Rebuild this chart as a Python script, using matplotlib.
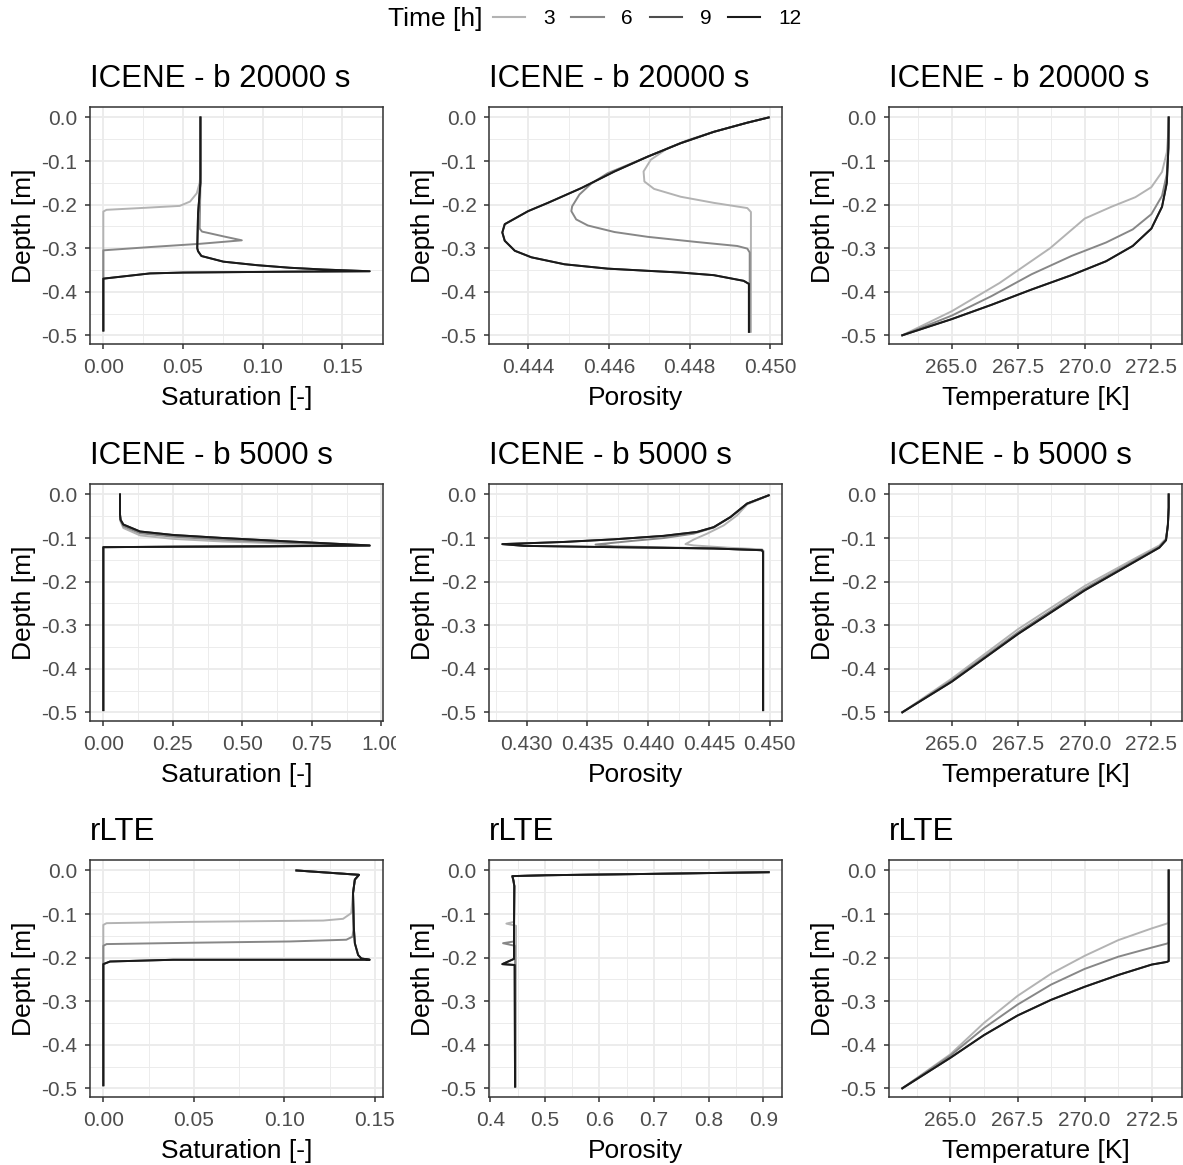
import matplotlib.pyplot as plt
from matplotlib.lines import Line2D
from matplotlib.ticker import FixedLocator, FormatStrFormatter, AutoMinorLocator
from matplotlib.transforms import Bbox

plt.rcParams['font.family'] = ['Liberation Sans', 'DejaVu Sans']
plt.rcParams['axes.unicode_minus'] = False

# ── Legend / series styling ───────────────────────────────────────────────────
times   = ['3', '6', '9', '12']
colours = ['#B3B3B3', '#878787', '#4D4D4D', '#1A1A1A']

# ── ICENE - b 20000 s : saturation ────────────────────────────────────────────
sat20k_3_x  = [0.061, 0.061, 0.0605, 0.0587, 0.0545, 0.048, 0.023, 0.002, 0.0, 0.0]
sat20k_3_y  = [0.0, -0.13, -0.15, -0.174, -0.193, -0.203, -0.208, -0.212, -0.216, -0.489]
sat20k_6_x  = [0.061, 0.061, 0.0605, 0.062, 0.067, 0.0755, 0.087, 0.0608, 0.0293, 0.0, 0.0]
sat20k_6_y  = [0.0, -0.15, -0.255, -0.262, -0.266, -0.273, -0.282, -0.290, -0.2975, -0.305, -0.489]
sat20k_12_x = [0.061, 0.061, 0.0595, 0.059, 0.0595, 0.0616, 0.0754, 0.0963, 0.1172, 0.138,
               0.1673, 0.117, 0.0502, 0.0293, 0.0, 0.0]
sat20k_12_y = [0.0, -0.15, -0.22, -0.30, -0.307, -0.318, -0.331, -0.339, -0.345, -0.349,
               -0.353, -0.354, -0.356, -0.358, -0.370, -0.489]

# ── ICENE - b 20000 s : porosity ──────────────────────────────────────────────
por20k_3_x  = [0.44996, 0.44943, 0.44860, 0.44795, 0.44745, 0.44704, 0.44686, 0.44688,
               0.44712, 0.44778, 0.44860, 0.44943, 0.44952, 0.44952]
por20k_3_y  = [0.0, -0.012, -0.033, -0.052, -0.071, -0.097, -0.124, -0.147,
               -0.164, -0.182, -0.196, -0.208, -0.217, -0.492]
por20k_6_x  = [0.44996, 0.44943, 0.44860, 0.44778, 0.44696, 0.44647, 0.44597, 0.44556,
               0.44527, 0.44509, 0.44507, 0.44519, 0.44548, 0.44614, 0.44696, 0.44819,
               0.44918, 0.44943, 0.44949, 0.44949]
por20k_6_y  = [0.0, -0.012, -0.033, -0.059, -0.090, -0.109, -0.128, -0.152,
               -0.177, -0.204, -0.215, -0.234, -0.248, -0.263, -0.274, -0.286,
               -0.295, -0.301, -0.310, -0.492]
por20k_12_x = [0.44996, 0.44943, 0.44860, 0.44778, 0.44696, 0.44614, 0.44532, 0.44449,
               0.44400, 0.44342, 0.44336, 0.44342, 0.44367, 0.44408, 0.44490, 0.44597,
               0.44696, 0.44778, 0.44860, 0.44934, 0.44947, 0.44947]
por20k_12_y = [0.0, -0.012, -0.033, -0.059, -0.090, -0.124, -0.162, -0.196,
               -0.215, -0.245, -0.264, -0.283, -0.306, -0.321, -0.337, -0.347,
               -0.352, -0.356, -0.362, -0.375, -0.382, -0.492]

# ── ICENE - b 20000 s : temperature ───────────────────────────────────────────
tem20k_3_x  = [263.15, 265.0, 266.8, 268.7, 270.0, 271.0, 271.9, 272.5, 272.9, 273.08,
               273.14, 273.15]
tem20k_3_y  = [-0.5, -0.445, -0.38, -0.30, -0.232, -0.205, -0.183, -0.16, -0.125, -0.08,
               -0.03, 0.0]
tem20k_6_x  = [263.15, 265.0, 266.5, 268.0, 269.5, 270.8, 271.8, 272.5, 272.9, 273.08,
               273.14, 273.15]
tem20k_6_y  = [-0.5, -0.455, -0.41, -0.36, -0.318, -0.287, -0.257, -0.222, -0.18, -0.13,
               -0.06, 0.0]
tem20k_12_x = [263.15, 265.0, 266.5, 268.0, 269.5, 270.8, 271.8, 272.5, 272.9, 273.08,
               273.14, 273.15]
tem20k_12_y = [-0.5, -0.463, -0.43, -0.395, -0.362, -0.33, -0.295, -0.255, -0.205, -0.15,
               -0.07, 0.0]

# ── ICENE - b 5000 s : saturation ─────────────────────────────────────────────
sat5k_x    = [0.06, 0.06, 0.062, 0.072, 0.132, 0.251, 0.431, 0.671, 0.958, 0.60, 0.25, 0.0, 0.0]
sat5k_3_y  = [0.0, -0.046, -0.062, -0.077, -0.094, -0.102, -0.108, -0.113, -0.118, -0.119,
              -0.120, -0.121, -0.495]
sat5k_6_y  = [0.0, -0.046, -0.060, -0.073, -0.089, -0.097, -0.104, -0.111, -0.118, -0.119,
              -0.120, -0.121, -0.495]
sat5k_12_y = [0.0, -0.046, -0.058, -0.069, -0.085, -0.093, -0.100, -0.108, -0.117, -0.119,
              -0.120, -0.121, -0.495]

# ── ICENE - b 5000 s : porosity ───────────────────────────────────────────────
por5k_3_x  = [0.44992, 0.44814, 0.44732, 0.44622, 0.44485, 0.44375, 0.44307, 0.44375,
              0.44677, 0.44937, 0.44951, 0.44951]
por5k_3_y  = [-0.002, -0.023, -0.048, -0.071, -0.090, -0.1035, -0.114, -0.117,
              -0.1225, -0.126, -0.130, -0.495]
por5k_6_x  = [0.44992, 0.44814, 0.44677, 0.44540, 0.44375, 0.44129, 0.43855, 0.43567,
              0.43718, 0.44540, 0.44937, 0.44945, 0.44945]
por5k_6_y  = [-0.002, -0.021, -0.052, -0.076, -0.090, -0.100, -0.107, -0.115,
              -0.119, -0.124, -0.128, -0.132, -0.495]
por5k_12_x = [0.44992, 0.44814, 0.44677, 0.44540, 0.44403, 0.44129, 0.43718, 0.43307,
              0.42800, 0.42978, 0.43718, 0.44540, 0.44937, 0.44945, 0.44945]
por5k_12_y = [-0.002, -0.021, -0.052, -0.075, -0.086, -0.095, -0.103, -0.109,
              -0.114, -0.118, -0.121, -0.124, -0.128, -0.132, -0.495]

# ── ICENE - b 5000 s : temperature ────────────────────────────────────────────
tem5k_x    = [263.15, 265.0, 267.5, 270.0, 272.0, 272.8, 273.05, 273.12, 273.15, 273.15]
tem5k_3_y  = [-0.5, -0.423, -0.309, -0.210, -0.143, -0.117, -0.101, -0.07, -0.03, 0.0]
tem5k_6_y  = [-0.5, -0.427, -0.316, -0.216, -0.147, -0.120, -0.103, -0.07, -0.03, 0.0]
tem5k_12_y = [-0.5, -0.430, -0.320, -0.220, -0.150, -0.122, -0.105, -0.07, -0.03, 0.0]

# ── rLTE : saturation ─────────────────────────────────────────────────────────
satr_3_x  = [0.1067, 0.1413, 0.139, 0.138, 0.137, 0.1325, 0.1215, 0.0478, 0.0018, 0.0, 0.0]
satr_3_y  = [0.0, -0.010, -0.021, -0.052, -0.098, -0.111, -0.115, -0.118, -0.121, -0.125, -0.493]
satr_6_x  = [0.1067, 0.1413, 0.139, 0.138, 0.1384, 0.1377, 0.1343, 0.103, 0.0478, 0.0018, 0.0, 0.0]
satr_6_y  = [0.0, -0.010, -0.021, -0.052, -0.129, -0.152, -0.159, -0.163, -0.166, -0.169,
             -0.173, -0.493]
satr_12_x = [0.1067, 0.1413, 0.139, 0.138, 0.1384, 0.139, 0.1408, 0.1426, 0.1472, 0.0386,
             0.0037, 0.0, 0.0]
satr_12_y = [0.0, -0.010, -0.021, -0.052, -0.129, -0.167, -0.194, -0.202, -0.205, -0.205,
             -0.209, -0.215, -0.493]

# ── rLTE : porosity ───────────────────────────────────────────────────────────
porr_3_x  = [0.910, 0.686, 0.502, 0.4405, 0.4426, 0.4441, 0.4435, 0.4295, 0.4472, 0.4472]
porr_3_y  = [-0.004, -0.008, -0.011, -0.013, -0.024, -0.036, -0.118, -0.122, -0.127, -0.496]
porr_6_x  = [0.910, 0.686, 0.502, 0.4405, 0.4426, 0.4441, 0.4435, 0.4234, 0.4454, 0.4454]
porr_6_y  = [-0.004, -0.008, -0.011, -0.013, -0.024, -0.036, -0.163, -0.167, -0.173, -0.496]
porr_12_x = [0.910, 0.686, 0.502, 0.4405, 0.4426, 0.4441, 0.4435, 0.4435, 0.4221, 0.4447, 0.4454]
porr_12_y = [-0.004, -0.008, -0.011, -0.013, -0.024, -0.036, -0.131, -0.203, -0.215, -0.217, -0.496]

# ── rLTE : temperature ────────────────────────────────────────────────────────
temr_x    = [263.21, 265.0, 266.25, 267.5, 268.75, 270.0, 271.25, 272.5, 273.06, 273.13, 273.13]
temr_3_y  = [-0.5, -0.422, -0.350, -0.288, -0.237, -0.196, -0.160, -0.133, -0.122, -0.120, 0.0]
temr_6_y  = [-0.5, -0.425, -0.362, -0.308, -0.262, -0.226, -0.198, -0.177, -0.168, -0.166, 0.0]
temr_12_y = [-0.5, -0.430, -0.378, -0.333, -0.297, -0.267, -0.240, -0.216, -0.210, -0.208, 0.0]

# ── Axis breaks ───────────────────────────────────────────────────────────────
depth_ticks = [0.0, -0.1, -0.2, -0.3, -0.4, -0.5]
temp_ticks  = [265.0, 267.5, 270.0, 272.5]

# panel table: (title, xlabel, series per time [3, 6, 9, 12], xticks, fmt)
# time 9 overlaps time 12 everywhere in the reference, so it reuses that series
panels = [
    [('ICENE - b 20000 s', 'Saturation [-]',
      [(sat20k_3_x, sat20k_3_y), (sat20k_6_x, sat20k_6_y), (sat20k_12_x, sat20k_12_y), (sat20k_12_x, sat20k_12_y)],
      [0.0, 0.05, 0.10, 0.15], '%.2f'),
     ('ICENE - b 20000 s', 'Porosity',
      [(por20k_3_x, por20k_3_y), (por20k_6_x, por20k_6_y), (por20k_12_x, por20k_12_y), (por20k_12_x, por20k_12_y)],
      [0.444, 0.446, 0.448, 0.450], '%.3f'),
     ('ICENE - b 20000 s', 'Temperature [K]',
      [(tem20k_3_x, tem20k_3_y), (tem20k_6_x, tem20k_6_y), (tem20k_12_x, tem20k_12_y), (tem20k_12_x, tem20k_12_y)],
      temp_ticks, '%.1f')],
    [('ICENE - b 5000 s', 'Saturation [-]',
      [(sat5k_x, sat5k_3_y), (sat5k_x, sat5k_6_y), (sat5k_x, sat5k_12_y), (sat5k_x, sat5k_12_y)],
      [0.0, 0.25, 0.50, 0.75, 1.00], '%.2f'),
     ('ICENE - b 5000 s', 'Porosity',
      [(por5k_3_x, por5k_3_y), (por5k_6_x, por5k_6_y), (por5k_12_x, por5k_12_y), (por5k_12_x, por5k_12_y)],
      [0.430, 0.435, 0.440, 0.445, 0.450], '%.3f'),
     ('ICENE - b 5000 s', 'Temperature [K]',
      [(tem5k_x, tem5k_3_y), (tem5k_x, tem5k_6_y), (tem5k_x, tem5k_12_y), (tem5k_x, tem5k_12_y)],
      temp_ticks, '%.1f')],
    [('rLTE', 'Saturation [-]',
      [(satr_3_x, satr_3_y), (satr_6_x, satr_6_y), (satr_12_x, satr_12_y), (satr_12_x, satr_12_y)],
      [0.0, 0.05, 0.10, 0.15], '%.2f'),
     ('rLTE', 'Porosity',
      [(porr_3_x, porr_3_y), (porr_6_x, porr_6_y), (porr_12_x, porr_12_y), (porr_12_x, porr_12_y)],
      [0.4, 0.5, 0.6, 0.7, 0.8, 0.9], '%.1f'),
     ('rLTE', 'Temperature [K]',
      [(temr_x, temr_3_y), (temr_x, temr_6_y), (temr_x, temr_12_y), (temr_x, temr_12_y)],
      temp_ticks, '%.1f')],
]

# ── Figure layout (pixel positions of the panels) ─────────────────────────────
W, H = 1183, 1165
col_left = [90, 489, 889]
row_top  = [107, 484, 860]
pw, ph   = 293, 237

fig = plt.figure(figsize=(W / 100, H / 100), dpi=100)
axes = []

for r in range(3):
    for c in range(3):
        title, xlabel, series, xticks, fmt = panels[r][c]
        ax = fig.add_axes([col_left[c] / W, 1 - (row_top[r] + ph) / H, pw / W, ph / H])
        for (xs, ys), col in zip(series, colours):
            ax.plot(xs, ys, color=col, lw=1.4, solid_joinstyle='round')

        ax.margins(x=0.05)
        ax.set_ylim(-0.52, 0.024)
        ax.xaxis.set_major_locator(FixedLocator(xticks))
        ax.xaxis.set_major_formatter(FormatStrFormatter(fmt))
        ax.yaxis.set_major_locator(FixedLocator(depth_ticks))
        ax.yaxis.set_major_formatter(FormatStrFormatter('%.1f'))
        ax.xaxis.set_minor_locator(AutoMinorLocator(2))
        ax.yaxis.set_minor_locator(AutoMinorLocator(2))

        ax.grid(which='major', color='#EBEBEB', lw=1.3)
        ax.grid(which='minor', color='#EBEBEB', lw=0.65)
        ax.set_axisbelow(True)
        for sp in ax.spines.values():
            sp.set_color('#333333')
            sp.set_linewidth(1.1)
        ax.tick_params(which='major', direction='out', length=3.5, width=1.1, color='#333333',
                       labelcolor='#4D4D4D', labelsize=15, pad=5.5)
        ax.tick_params(axis='x', which='major', pad=6.5)
        ax.tick_params(which='minor', length=0)

        ax.set_title(title, loc='left', fontsize=22.5, pad=14.5)
        ax.set_xlabel(xlabel, fontsize=19, labelpad=6.5)
        ax.set_ylabel('Depth [m]', fontsize=19, labelpad=4)
        axes.append(ax)

# the 1.00 label of the 5000 s saturation panel is cut by the neighbouring plot
clip = Bbox.from_extents(0, 0, 396, H)
for lab in axes[3].get_xticklabels():
    lab.set_clip_box(clip)
    lab.set_clip_on(True)

# ── Legend on top ─────────────────────────────────────────────────────────────
fig.text(388 / W, 1 - 19 / H, 'Time [h]', fontsize=19, ha='left', va='center')
handles = [Line2D([], [], color=col, lw=1.5) for col in colours]
fig.legend(handles, times, loc='center left', bbox_to_anchor=(493 / W, 1 - 19 / H),
           ncol=4, frameon=False, fontsize=15, handlelength=1.55, handletextpad=0.85,
           columnspacing=0.8, borderpad=0, borderaxespad=0)

fig.savefig('out.png', dpi=100)
